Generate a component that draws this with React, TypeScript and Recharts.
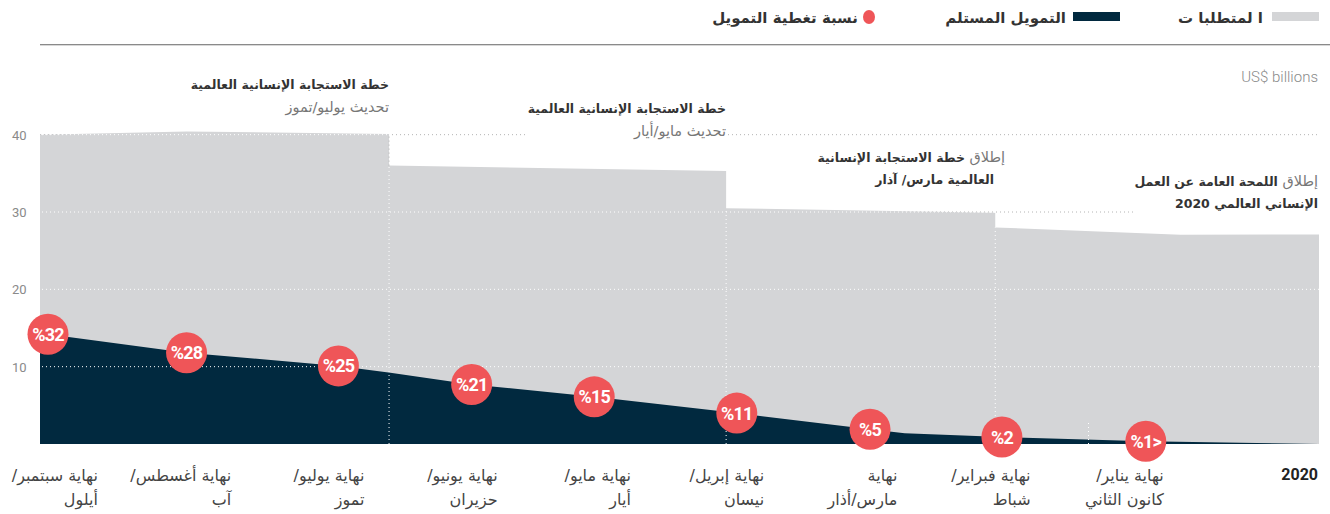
import React from 'react';
import { ComposedChart, Area, Scatter, XAxis, YAxis, CartesianGrid, ReferenceLine } from 'recharts';

// x = months elapsed in 2020 (0 = start of year, shown on the right)
const monthTicks = [0, 1, 2, 3, 4, 5, 6, 7, 8, 9];
const monthLabels = [
  ['2020'],
  ['نهاية يناير/', 'كانون الثاني'],
  ['نهاية فبراير/', 'شباط'],
  ['نهاية', 'مارس/أذار'],
  ['نهاية إبريل/', 'نيسان'],
  ['نهاية مايو/', 'أيار'],
  ['نهاية يونيو/', 'حزيران'],
  ['نهاية يوليو/', 'تموز'],
  ['نهاية أغسطس/', 'آب'],
  ['نهاية سبتمبر/', 'أيلول'],
];
const valueTicks = [10, 20, 30, 40];

// requirements (US$ billions), steps are repeated months
const reqMonths = [-0.15, 0.89, 2.28, 2.28, 4.3, 4.3, 6.83, 6.83, 8.35, 9.45];
const reqValues = [27.1, 27.05, 28.0, 29.9, 30.5, 35.3, 36.0, 40.1, 40.4, 40.0];

// funding received (US$ billions)
const fundMonths = [-0.15, 1.15, 2.23, 2.96, 3.22, 4.22, 5.29, 6.21, 6.82, 7.21, 8.35, 9.39, 9.45];
const fundValues = [0, 0.35, 0.9, 1.4, 1.9, 4.0, 6.1, 7.7, 9.2, 10.1, 11.8, 14.2, 14.3];

// coverage bubbles
const coverageMonths = [9.39, 8.35, 7.21, 6.21, 5.29, 4.22, 3.22, 2.23, 1.15];
const coverageLabels = ['%32', '%28', '%25', '%21', '%15', '%11', '%5', '%2', '%1>'];

// plan update markers
const updateMonths = [6.83, 4.3, 2.28];
const updateTops = [36.0, 30.5, 28.0];

const GREY = '#d4d5d7';
const NAVY = '#01293f';
const RED = '#ef5558';
const AR = '"DejaVu Sans", sans-serif';
const NUM = 'Roboto, sans-serif';

const reqData = reqMonths.map((x, i) => ({ x, v: reqValues[i] }));
const fundData = fundMonths.map((x, i) => ({ x, v: fundValues[i] }));
const coverageData = coverageMonths.map((x, i) => ({
  x,
  v: fundValues[fundMonths.indexOf(x)],
  label: coverageLabels[i],
}));

const rtl = (s: string) => '\u202B' + s + '\u202C';

function MonthTick({ x, y, payload }: any) {
  const lines = monthLabels[payload.value];
  if (payload.value === 0) {
    return (
      <text x={x + 19} y={y + 36} textAnchor="end" fontFamily={NUM} fontWeight={700} fontSize={16} fill="#222">
        {lines[0]}
      </text>
    );
  }
  return (
    <g>
      {lines.map((l, i) => (
        <text key={i} x={x - 2} y={y + 37 + i * 24} textAnchor="end" fontFamily={AR} fontSize={16} fill="#444">
          {rtl(l)}
        </text>
      ))}
    </g>
  );
}

function ValueTick({ y, payload }: any) {
  return (
    <text x={12} y={y + 5} fontFamily={NUM} fontSize={13} fill="#8a8a8a">
      {payload.value}
    </text>
  );
}

function Bubble({ cx, cy, payload }: any) {
  return (
    <g>
      <circle cx={cx} cy={cy} r={20.5} fill={RED} />
      <text x={cx} y={cy + 6.5} textAnchor="middle" fontFamily={NUM} fontWeight={700} fontSize={18} fill="#fff" letterSpacing={-0.8}>
        {payload.label}
      </text>
    </g>
  );
}

const legendText: React.CSSProperties = {
  position: 'absolute', top: 9, fontFamily: AR, fontWeight: 700, fontSize: 15, color: '#333', direction: 'rtl', whiteSpace: 'nowrap',
};
const note: React.CSSProperties = {
  position: 'absolute', direction: 'rtl', textAlign: 'right', fontFamily: AR, fontSize: 12.5, lineHeight: '22px',
  color: '#333', background: '#fff', whiteSpace: 'nowrap',
};
const light: React.CSSProperties = { fontWeight: 400, color: '#777', fontSize: 14.5 };

export default function App() {
  return (
    <div style={{ position: 'absolute', left: 0, top: 0, width: 1330, height: 514, background: '#fff', overflow: 'hidden' }}>
      <ComposedChart width={1330} height={514} margin={{ top: 96, right: 11, bottom: 0, left: 0 }}>
        <CartesianGrid horizontal vertical={false} horizontalValues={valueTicks} stroke="#b4b4b4" strokeDasharray="1 3" />
        <XAxis
          type="number"
          dataKey="x"
          domain={[-0.15, 9.45]}
          reversed
          ticks={monthTicks}
          interval={0}
          axisLine={false}
          tickLine={false}
          tickSize={0}
          tickMargin={0}
          height={70}
          tick={<MonthTick />}
          allowDuplicatedCategory
        />
        <YAxis
          type="number"
          domain={[0, 45]}
          ticks={valueTicks}
          axisLine={false}
          tickLine={false}
          width={40}
          tick={<ValueTick />}
        />
        <Area data={reqData} dataKey="v" type="linear" fill={GREY} fillOpacity={1} stroke="none" isAnimationActive={false} />
        <Area data={fundData} dataKey="v" type="linear" fill={NAVY} fillOpacity={1} stroke="none" isAnimationActive={false} />
        {valueTicks.map((t) => (
          <ReferenceLine key={t} y={t} stroke="#fff" strokeDasharray="1 3" strokeDashoffset={2} strokeWidth={1} />
        ))}
        {updateMonths.map((m, i) => (
          <ReferenceLine key={'u' + m} segment={[{ x: m, y: 0 }, { x: m, y: updateTops[i] }]} stroke="#fff" strokeDasharray="1 3" />
        ))}
        <ReferenceLine segment={[{ x: 6.83, y: 36 }, { x: 6.83, y: 40 }]} stroke="#b4b4b4" strokeDasharray="1 3" />
        <ReferenceLine segment={[{ x: 1.58, y: 0 }, { x: 1.58, y: 2.9 }]} stroke="#fff" strokeDasharray="1 3" />
        <Scatter data={coverageData} dataKey="v" shape={<Bubble />} isAnimationActive={false} />
      </ComposedChart>

      {/* legend */}
      <div style={{ position: 'absolute', left: 1272, top: 12, width: 47, height: 9, background: GREY }} />
      <div style={{ ...legendText, right: 1330 - 1263 }}>ا لمتطلبا ت</div>
      <div style={{ position: 'absolute', left: 1073, top: 12, width: 47, height: 9, background: NAVY }} />
      <div style={{ ...legendText, right: 1330 - 1066 }}>التمويل المستلم</div>
      <div style={{ position: 'absolute', left: 863, top: 10, width: 12, height: 14, borderRadius: '50%', background: RED }} />
      <div style={{ ...legendText, right: 1330 - 858 }}>نسبة تغطية التمويل</div>
      <div style={{ position: 'absolute', left: 40, top: 44, width: 1290, height: 1, background: '#8a8a8a' }} />
      <div style={{ position: 'absolute', left: 40, top: 45, width: 1290, height: 1, background: '#d8d8d8' }} />

      <div style={{ position: 'absolute', right: 12, top: 68, fontFamily: NUM, fontWeight: 300, fontSize: 15, color: '#8a8a8a' }}>
        US$ billions
      </div>

      {/* annotations */}
      <div style={{ ...note, right: 1330 - 389, top: 74 }}>
        <div style={{ fontWeight: 700 }}>خطة الاستجابة الإنسانية العالمية</div>
        <div style={light}>تحديث يوليو/تموز</div>
      </div>
      <div style={{ ...note, right: 1330 - 726, top: 98 }}>
        <div style={{ fontWeight: 700 }}>خطة الاستجابة الإنسانية العالمية</div>
        <div style={light}>تحديث مايو/أيار</div>
      </div>
      <div style={{ ...note, right: 1330 - 1005, top: 146 }}>
        <div style={{ fontWeight: 700 }}><span style={light}>إطلاق </span>خطة الاستجابة الإنسانية</div>
        <div style={{ fontWeight: 700, paddingRight: 11 }}>العالمية مارس/ آذار</div>
      </div>
      <div style={{ ...note, right: 12, top: 170, paddingBottom: 4 }}>
        <div style={{ fontWeight: 700 }}><span style={light}>إطلاق </span>اللمحة العامة عن العمل</div>
        <div style={{ fontWeight: 700 }}>الإنساني العالمي 2020</div>
      </div>
    </div>
  );
}
